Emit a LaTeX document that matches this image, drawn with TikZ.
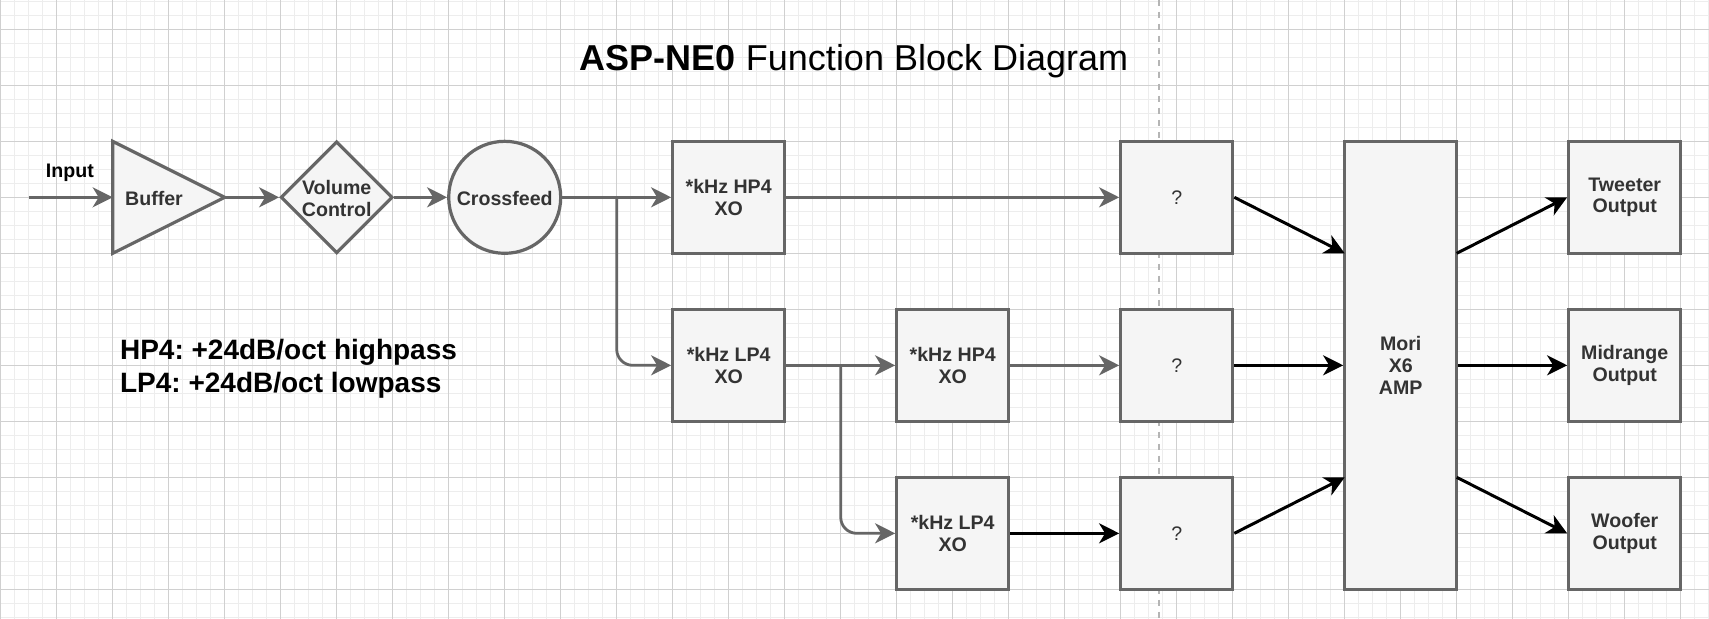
\documentclass[tikz,border=0pt]{standalone}
\usepackage{fontspec}
\setmainfont{Liberation Sans}
\usetikzlibrary{arrows.meta,shapes.geometric}
\definecolor{strokeg}{HTML}{666666}
\definecolor{fillg}{HTML}{F5F5F5}
\definecolor{txtg}{HTML}{333333}
\definecolor{gridmaj}{HTML}{D0D0D0}
\definecolor{gridmin}{HTML}{EDEDED}
\definecolor{pagebrk}{HTML}{B5B5B5}
\begin{document}
\frenchspacing
\begin{tikzpicture}[x=0.7pt,y=-0.7pt,
  shp/.style={draw=strokeg, fill=fillg, line width=1.6pt},
  blk/.style={shp, rectangle, minimum width=56pt, minimum height=56pt, inner sep=0pt, align=center,
    font=\fontsize{9.8pt}{10.9pt}\selectfont\bfseries, text=txtg},
  tall/.style={blk, minimum height=224pt},
  qbox/.style={blk, font=\fontsize{9.8pt}{10.9pt}\selectfont},
  lbl/.style={inner sep=0pt, align=center, font=\fontsize{9.8pt}{10.9pt}\selectfont\bfseries, text=txtg},
  garrow/.style={draw=strokeg, line width=1.4pt, -{Stealth[length=10pt,width=10pt,inset=3pt]}},
  barrow/.style={draw=black, line width=1.5pt, -{Stealth[length=10pt,width=10pt,inset=3pt]}},
  legend/.style={anchor=base west, inner sep=0pt, font=\fontsize{14pt}{16.4pt}\selectfont\bfseries, text=black}
]
% background and grid
\useasboundingbox (-0.5,-20.93) rectangle (1220.2,420.5);
\fill[white] (-0.5,-20.93) rectangle (1220.2,420.5);
\foreach \x in {0,10,...,1220} \draw[gridmin, line width=0.5pt] (\x,-21) -- (\x,421);
\foreach \y in {-20,-10,...,420} \draw[gridmin, line width=0.5pt] (-1,\y) -- (1221,\y);
\foreach \x in {0,40,...,1200} \draw[gridmaj, line width=0.5pt] (\x,-21) -- (\x,421);
\foreach \y in {0,40,...,400} \draw[gridmaj, line width=0.5pt] (-1,\y) -- (1221,\y);
% page break
\draw[pagebrk, line width=0.75pt, dash pattern=on 3.2pt off 2.8pt] (827.5,-21) -- (827.5,421);

% title
\node[anchor=base, inner sep=0pt, font=\fontsize{18pt}{21pt}\selectfont, text=black] (title) at (609.5,29.6)
  {\textbf{ASP-NE0} Function Block Diagram};

% input label
\node[anchor=base, inner sep=0pt, font=\fontsize{9.8pt}{10.9pt}\selectfont\bfseries, text=black] (inlbl) at (49.4,106) {Input};
\coordinate (in) at (20,120);

% buffer triangle
\draw[shp] (80,80) -- (160,120) -- (80,160) -- cycle;
\coordinate (bufin) at (80,120);
\coordinate (bufout) at (160,120);
\node[lbl] (buf) at (109.5,121) {Buffer};

% volume control diamond
\node[shp, diamond, minimum width=56pt, minimum height=56pt, inner sep=0pt] (vol) at (240,120) {};
\node[lbl] (voltxt) at (240,121) {Volume\\Control};

% crossfeed circle
\node[shp, circle, minimum size=56pt, inner sep=0pt] (xf) at (360,120) {};
\node[lbl] (xftxt) at (360,121) {Crossfeed};

% blocks
\node[blk] (hp4) at (520,120) {*kHz HP4\\XO};
\node[blk] (lp4) at (520,240) {*kHz LP4\\XO};
\node[blk] (hp4b) at (680,240) {*kHz HP4\\XO};
\node[blk] (lp4b) at (680,360) {*kHz LP4\\XO};
\node[qbox] (q1) at (840,120) {?};
\node[qbox] (q2) at (840,240) {?};
\node[qbox] (q3) at (840,360) {?};
\node[tall] (amp) at (1000,240) {Mori\\X6\\AMP};
\node[blk] (tw) at (1160,120) {Tweeter\\Output};
\node[blk] (mid) at (1160,240) {Midrange\\Output};
\node[blk] (wf) at (1160,360) {Woofer\\Output};

% junction and port coordinates
\coordinate (j1) at (440,120);
\coordinate (j2) at (600,240);
\coordinate (ampi1) at (960,160);
\coordinate (ampi3) at (960,320);
\coordinate (ampo1) at (1040,160);
\coordinate (ampo3) at (1040,320);

% connectors
\draw[garrow] (in) -- (bufin);
\draw[garrow] (bufout) -- (vol.west);
\draw[garrow] (vol.east) -- (xf.west);
\draw[garrow] (xf.east) -- (hp4.west);
\draw[garrow, rounded corners=8pt] (j1) |- (lp4.west);
\draw[garrow] (hp4.east) -- (q1.west);
\draw[garrow] (lp4.east) -- (hp4b.west);
\draw[garrow, rounded corners=8pt] (j2) |- (lp4b.west);
\draw[garrow] (hp4b.east) -- (q2.west);
\draw[barrow] (lp4b.east) -- (q3.west);
\draw[barrow] (q1.east) -- (ampi1);
\draw[barrow] (q2.east) -- (amp.west);
\draw[barrow] (q3.east) -- (ampi3);
\draw[barrow] (ampo1) -- (tw.west);
\draw[barrow] (amp.east) -- (mid.west);
\draw[barrow] (ampo3) -- (wf.west);

% legend
\node[legend] (leg1) at (85,236) {HP4: +24dB/oct highpass};
\node[legend] (leg2) at (85,259.4) {LP4: +24dB/oct lowpass};
\end{tikzpicture}
\end{document}
